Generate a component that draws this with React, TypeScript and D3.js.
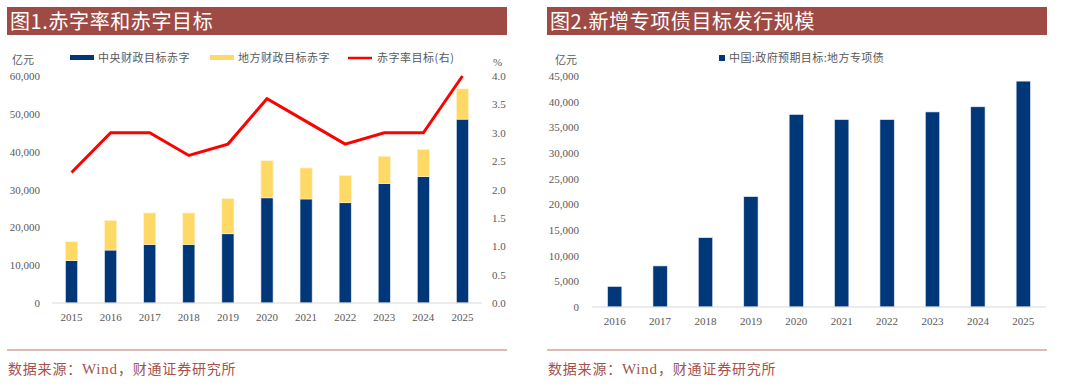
import React from "react";
import * as d3 from "d3";

// left panel data
const years1 = ["2015", "2016", "2017", "2018", "2019", "2020", "2021", "2022", "2023", "2024", "2025"];
const centralDeficit = [11200, 14000, 15500, 15500, 18300, 27800, 27500, 26500, 31600, 33400, 48600];
const localDeficit = [5000, 7800, 8300, 8300, 9300, 9800, 8200, 7200, 7200, 7200, 8000];
const deficitRate = [2.3, 3.0, 3.0, 2.6, 2.8, 3.6, 3.2, 2.8, 3.0, 3.0, 4.0];
const leftTicks = [0, 10000, 20000, 30000, 40000, 50000, 60000];
const rightTicks = [0, 0.5, 1.0, 1.5, 2.0, 2.5, 3.0, 3.5, 4.0];

// right panel data
const years2 = ["2016", "2017", "2018", "2019", "2020", "2021", "2022", "2023", "2024", "2025"];
const specialBonds = [4000, 8000, 13500, 21500, 37500, 36500, 36500, 38000, 39000, 44000];
const bondTicks = [0, 5000, 10000, 15000, 20000, 25000, 30000, 35000, 40000, 45000];

const NAVY = "#003778";
const YELLOW = "#FFD966";
const RED = "#FF0000";
const TITLE_BG = "#9E4B45";
const GREY = "#595959";
const SERIF = "'Liberation Serif', 'Times New Roman', serif";
const CJK = "'Noto Sans CJK SC', sans-serif";

const fmt = d3.format(",");

function Header({ x, text }: { x: number; text: string }) {
    return (
        <g>
            <rect x={x} y={7} width={500} height={28} fill={TITLE_BG} />
            <text x={x + 3} y={29} fill="#fff" fontSize={20} fontFamily={CJK} letterSpacing={0.6}>
                {text}
            </text>
        </g>
    );
}

function Footer({ x }: { x: number }) {
    return (
        <g>
            <line x1={x} x2={x + 500} y1={350} y2={350} stroke="#C0706A" strokeWidth={1} />
            <text x={x + 1} y={374} fill="#A6514B" fontSize={14} fontFamily={CJK} letterSpacing={0.8}>
                数据来源：<tspan fontFamily={SERIF} fontSize={15}>Wind</tspan>，财通证券研究所
            </text>
        </g>
    );
}

function LeftChart() {
    const x = d3.scaleBand().domain(years1).range([52, 482]).paddingInner(0.69).paddingOuter(0.345);
    const y = d3.scaleLinear().domain([0, 60000]).range([303, 76]);
    const y2 = d3.scaleLinear().domain([0, 4]).range([303, 76]);
    const line = d3
        .line<number>()
        .x((d, i) => (x(years1[i]) as number) + x.bandwidth() / 2)
        .y((d) => y2(d));

    return (
        <g>
            <Header x={7} text="图1.赤字率和赤字目标" />
            <text x={12} y={64} fontSize={11} fill={GREY} fontFamily={CJK}>亿元</text>
            <text x={493} y={66} fontSize={11} fill={GREY} fontFamily={SERIF}>%</text>

            {/* legend */}
            <rect x={70} y={55} width={24} height={5} fill={NAVY} />
            <text x={98} y={62} fontSize={11} fill={GREY} fontFamily={CJK} letterSpacing={0.5}>中央财政目标赤字</text>
            <rect x={210} y={55} width={24} height={5} fill={YELLOW} />
            <text x={238} y={62} fontSize={11} fill={GREY} fontFamily={CJK} letterSpacing={0.5}>地方财政目标赤字</text>
            <line x1={348} x2={372} y1={58} y2={58} stroke={RED} strokeWidth={2.5} />
            <text x={377} y={62} fontSize={11} fill={GREY} fontFamily={CJK} letterSpacing={0.5}>赤字率目标(右)</text>

            {leftTicks.map((t) => (
                <text key={t} x={40} y={y(t) + 4} textAnchor="end" fontSize={11} fill={GREY} fontFamily={SERIF}>
                    {fmt(t)}
                </text>
            ))}
            {rightTicks.map((t) => (
                <text key={t} x={492} y={y2(t) + 4} fontSize={11} fill={GREY} fontFamily={SERIF}>
                    {t.toFixed(1)}
                </text>
            ))}

            {years1.map((yr, i) => (
                <g key={yr}>
                    <rect
                        x={x(yr)}
                        y={y(centralDeficit[i])}
                        width={x.bandwidth()}
                        height={y(0) - y(centralDeficit[i])}
                        fill={NAVY}
                        stroke="#E6ECF3"
                        strokeWidth={0.6}
                    />
                    <rect
                        x={x(yr)}
                        y={y(centralDeficit[i] + localDeficit[i])}
                        width={x.bandwidth()}
                        height={y(centralDeficit[i]) - y(centralDeficit[i] + localDeficit[i])}
                        fill={YELLOW}
                        stroke="#FFF3CC"
                        strokeWidth={0.6}
                    />
                    <text
                        x={(x(yr) as number) + x.bandwidth() / 2}
                        y={321}
                        textAnchor="middle"
                        fontSize={11}
                        fill={GREY}
                        fontFamily={SERIF}
                    >
                        {yr}
                    </text>
                </g>
            ))}
            <line x1={52} x2={482} y1={303} y2={303} stroke="#D9D9D9" strokeWidth={1} />
            <path d={line(deficitRate) || ""} fill="none" stroke={RED} strokeWidth={3} strokeLinejoin="miter" />

            <Footer x={7} />
        </g>
    );
}

function RightChart() {
    const x = d3.scaleBand().domain(years2).range([592, 1046]).paddingInner(0.685).paddingOuter(0.3425);
    const y = d3.scaleLinear().domain([0, 45000]).range([307, 76]);

    return (
        <g>
            <Header x={547} text="图2.新增专项债目标发行规模" />
            <text x={555} y={64} fontSize={11} fill={GREY} fontFamily={CJK}>亿元</text>

            <rect x={719} y={55} width={6} height={6} fill={NAVY} />
            <text x={729} y={62} fontSize={11} fill={GREY} fontFamily={CJK} letterSpacing={0.4}>中国:政府预期目标:地方专项债</text>

            {bondTicks.map((t) => (
                <text key={t} x={579} y={y(t) + 4} textAnchor="end" fontSize={11} fill={GREY} fontFamily={SERIF}>
                    {fmt(t)}
                </text>
            ))}

            {years2.map((yr, i) => (
                <g key={yr}>
                    <rect
                        x={x(yr)}
                        y={y(specialBonds[i])}
                        width={x.bandwidth()}
                        height={y(0) - y(specialBonds[i])}
                        fill={NAVY}
                        stroke="#E6ECF3"
                        strokeWidth={0.6}
                    />
                    <text
                        x={(x(yr) as number) + x.bandwidth() / 2}
                        y={325}
                        textAnchor="middle"
                        fontSize={11}
                        fill={GREY}
                        fontFamily={SERIF}
                    >
                        {yr}
                    </text>
                </g>
            ))}
            <line x1={592} x2={1046} y1={307} y2={307} stroke="#D9D9D9" strokeWidth={1} />

            <Footer x={547} />
        </g>
    );
}

export default function App() {
    return (
        <svg
            width={1080}
            height={392}
            style={{ position: "absolute", left: 0, top: 0, background: "#fff" }}
        >
            <LeftChart />
            <RightChart />
        </svg>
    );
}
